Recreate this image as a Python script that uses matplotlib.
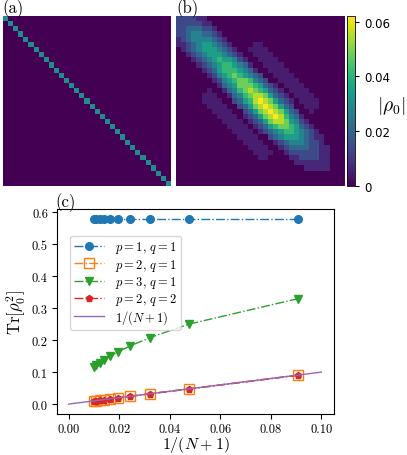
import numpy as np
import matplotlib
matplotlib.use("Agg")
import matplotlib.pyplot as plt

plt.rcParams["mathtext.fontset"] = "cm"
plt.rcParams["font.family"] = "serif"
plt.rcParams["font.serif"] = ["cmr10"]
plt.rcParams["axes.formatter.use_mathtext"] = True

# panel (c): purity vs 1/(N+1), N = 10..100
n_sites = [10, 20, 30, 40, 50, 60, 70, 80, 90, 100]
purity_p1q1 = [0.579, 0.579, 0.579, 0.579, 0.579, 0.579, 0.579, 0.579, 0.579, 0.579]
purity_p2q1 = [0.091, 0.048, 0.033, 0.025, 0.020, 0.017, 0.014, 0.013, 0.011, 0.010]
purity_p3q1 = [0.330, 0.250, 0.208, 0.182, 0.164, 0.150, 0.139, 0.130, 0.123, 0.117]
purity_p2q2 = [0.090, 0.047, 0.032, 0.024, 0.019, 0.016, 0.014, 0.012, 0.011, 0.010]
ref_x = [0.0, 0.1]
ref_y = [0.0, 0.1]

dim = 33
level_step = 0.0069
level_map = {".": 0.7}
rho_b_levels = [
    "222211000000000000000000000000000",
    "222221100000000000000000000000000",
    "223332210000000000000000000000000",
    "223443321000000000000000000000000",
    "123444432100000000000000000000000",
    "112345543210000..0000000000000000",
    "01234555432100....000000000000000",
    "001234555432100....00000000000000",
    "0001234565542100....0000000000000",
    "00001234566543100....000000000000",
    "000001235666543100....00000000000",
    "0000001245676543200....0000000000",
    "00000001245677643200....000000000",
    "000000001345777653210....00000000",
    "000000.001346787653210....0000000",
    "00000...001346788753210....000000",
    "00000....002356898753210....00000",
    "000000....002357898753200...00000",
    "0000000....002357898753200.000000",
    "00000000....012357898643100000000",
    "000000000....01235788754210000000",
    "0000000000....0123567765321000000",
    "00000000000....012345665432100000",
    "000000000000....00234555432110000",
    "0000000000000....0012344432210000",
    "00000000000000....001233332211000",
    "000000000000000....00122222211000",
    "0000000000000000..000011222211000",
    "000000000000000000000001111111000",
    "000000000000000000000000011111000",
    "000000000000000000000000000000000",
    "000000000000000000000000000000000",
    "000000000000000000000000000000000",
]

rho_b = np.array([[float(level_map.get(c, c)) for c in row] for row in rho_b_levels]) * level_step
rho_a = np.eye(dim) / dim
vmax = 9 * level_step

fig = plt.figure(figsize=(4.07, 4.56), dpi=100)
W, H = 407.0, 456.0


def px_axes(x0, y0, x1, y1):
    return fig.add_axes([x0 / W, 1 - y1 / H, (x1 - x0) / W, (y1 - y0) / H])


ax_a = px_axes(3, 17, 171, 187)
ax_a.imshow(rho_a, cmap="viridis", vmin=0, vmax=vmax, interpolation="nearest", aspect="auto")
ax_a.axis("off")

ax_b = px_axes(176, 17, 345, 187)
im = ax_b.imshow(rho_b, cmap="viridis", vmin=0, vmax=vmax, interpolation="nearest", aspect="auto")
ax_b.axis("off")

cax = px_axes(347, 17, 355, 187)
cb = fig.colorbar(im, cax=cax)
cb.set_ticks([0, 0.02, 0.04, 0.06])
cb.set_ticklabels(["0", "0.02", "0.04", "0.06"])
for lab in cax.get_yticklabels():
    lab.set_fontfamily("DejaVu Sans")
    lab.set_fontsize(8.5)
cax.tick_params(length=3, width=0.8)
cb.outline.set_linewidth(0.6)
fig.text(391 / W, 1 - 106 / H, r"$|\rho_0|$", fontsize=14, ha="center", va="center")

fig.text(2 / W, 1 - 9 / H, "(a)", fontsize=12, ha="left", va="center")
fig.text(176 / W, 1 - 9 / H, "(b)", fontsize=12, ha="left", va="center")
fig.text(55 / W, 1 - 203 / H, "(c)", fontsize=12, ha="left", va="center")

ax_c = px_axes(57, 210, 334, 415)
x = 1.0 / (np.array(n_sites) + 1)
ax_c.plot(x, purity_p1q1, "-.", color="C0", marker="o", ms=5.5, lw=1, label=r"$p=1$, $q=1$")
ax_c.plot(x, purity_p2q1, "-.", color="C1", marker="s", ms=7.5, mfc="none", mew=1, lw=1,
          label=r"$p=2$, $q=1$")
ax_c.plot(x, purity_p3q1, "-.", color="C2", marker="v", ms=5.5, lw=1, label=r"$p=3$, $q=1$")
ax_c.plot(x, purity_p2q2, "-.", color="C3", marker="p", ms=5, lw=1, label=r"$p=2$, $q=2$")
ax_c.plot(ref_x, ref_y, "-", color="C4", lw=1, label=r"$1/(N+1)$")

ax_c.set_xlim(-0.0046, 0.105)
ax_c.set_ylim(-0.031, 0.610)
ax_c.set_xticks([0.0, 0.02, 0.04, 0.06, 0.08, 0.10])
ax_c.set_yticks([0.0, 0.1, 0.2, 0.3, 0.4, 0.5, 0.6])
ax_c.set_xticklabels(["0.00", "0.02", "0.04", "0.06", "0.08", "0.10"])
ax_c.set_yticklabels(["0.0", "0.1", "0.2", "0.3", "0.4", "0.5", "0.6"])
ax_c.tick_params(labelsize=9, length=3.5, width=0.8, pad=3)
for s in ax_c.spines.values():
    s.set_linewidth(0.8)
ax_c.set_xlabel(r"$1/(N+1)$", fontsize=11.5, labelpad=-1)
ax_c.set_ylabel(r"$\mathrm{Tr}[\rho_0^2]$", fontsize=12, labelpad=3)
ax_c.legend(loc="upper left", bbox_to_anchor=(0.047, 0.87), borderaxespad=0, fontsize=9,
            handlelength=2.4, labelspacing=0.1, borderpad=0.3, handletextpad=0.9,
            framealpha=0.8)

fig.savefig("out.png", dpi=100)
